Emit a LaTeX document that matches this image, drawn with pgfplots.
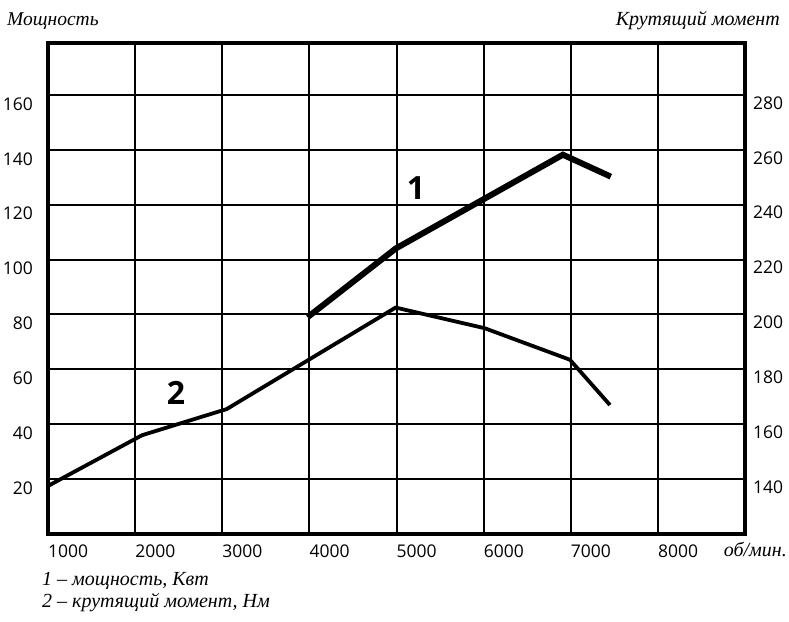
\documentclass[border=0pt]{standalone}
\usepackage{fontspec}
\setmainfont{Liberation Serif}
\newfontfamily\tickfont{Open Sans}
\usepackage{pgfplots}
\pgfplotsset{compat=1.18}
\begin{document}
\begin{tikzpicture}[x=1pt,y=1pt]
\useasboundingbox (-48,-87) rectangle (741,534);
\begin{axis}[
  at={(0,0)}, anchor=south west,
  scale only axis, width=697pt, height=491pt,
  xmin=1000, xmax=9000, ymin=0, ymax=178.9,
  xtick={1000,2000,...,8000}, ytick={20,40,...,160},
  scaled x ticks=false,
  /pgf/number format/1000 sep={},
  /pgf/number format/assume math mode=true,
  grid=major, major grid style={line width=2pt, black},
  axis line style={line width=4pt, line cap=rect},
  tick style={draw=none},
  ticklabel style={font=\tickfont\fontsize{17.5}{20}\selectfont},
  xticklabel style={anchor=north west, inner sep=0pt, yshift=-11pt},
  yticklabel style={anchor=east, inner sep=0pt, xshift=-15pt, yshift=-9pt},
]
\addplot[line width=6pt, black, line join=miter] coordinates {
  (3980,79) (4990,104) (6910,138.2) (7460,130.2)
};
\end{axis}
\begin{axis}[
  at={(0,0)}, anchor=south west,
  scale only axis, width=697pt, height=491pt,
  xmin=1000, xmax=9000, ymin=120, ymax=298.9,
  hide x axis,
  axis y line*=right,
  axis line style={draw=none},
  ytick={140,160,...,280},
  /pgf/number format/assume math mode=true,
  tick style={draw=none},
  ticklabel style={font=\tickfont\fontsize{17.5}{20}\selectfont},
  yticklabel style={anchor=west, inner sep=0pt, xshift=8pt, yshift=-8pt},
]
\addplot[line width=3.8pt, black, line join=miter] coordinates {
  (1000,137.5) (2080,156) (3050,165.5) (4990,202.5) (6010,195) (6990,183.5) (7450,167)
};
\end{axis}
\begin{scope}[every node/.style={inner sep=0pt}]
\node[anchor=base west, font=\itshape\fontsize{19.5}{22}\selectfont] at (-41,508) {Мощность};
\node[anchor=base east, font=\itshape\fontsize{20}{22}\selectfont] at (732,508) {Крутящий момент};
\node[anchor=base east, font=\itshape\fontsize{20}{22}\selectfont] at (739,-22) {об/мин.};
\node[anchor=base west, font=\itshape\fontsize{20}{22}\selectfont] at (-6,-51) {1 – мощность, Квт};
\node[anchor=base west, font=\itshape\fontsize{20}{22}\selectfont] at (-6,-73) {2 – крутящий момент, Нм};
\node[anchor=base, font=\tickfont\bfseries\fontsize{32}{34}\selectfont] at (368,334) {1};
\node[anchor=base, font=\tickfont\bfseries\fontsize{32}{34}\selectfont] at (128,129) {2};
\end{scope}
\end{tikzpicture}
\end{document}
